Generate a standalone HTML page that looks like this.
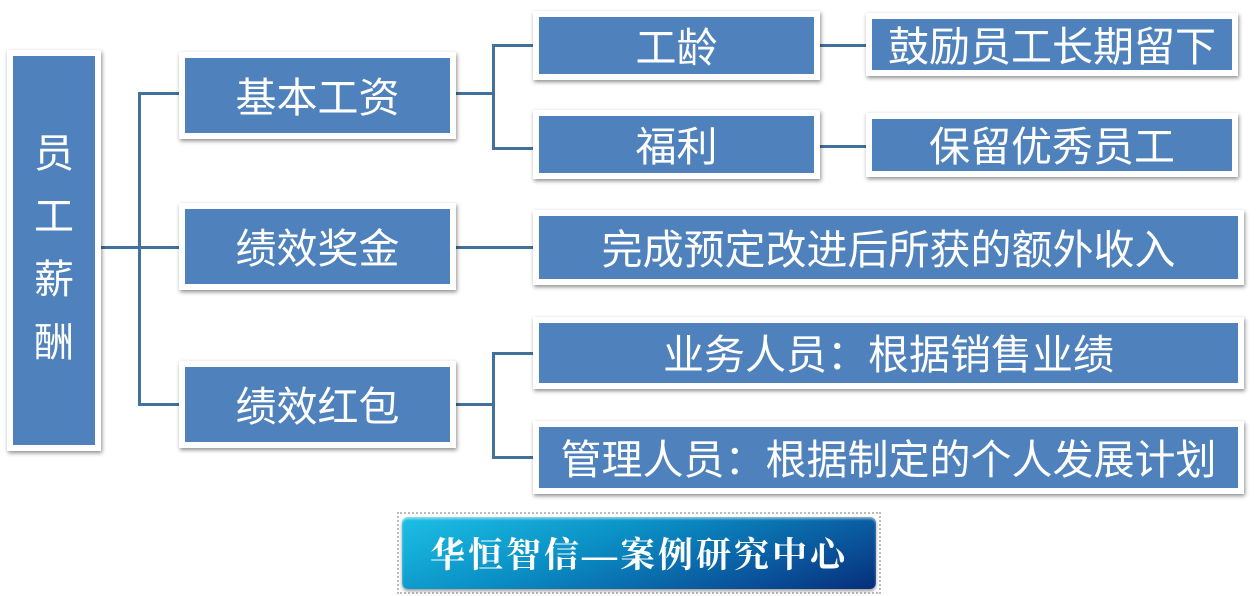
<!DOCTYPE html>
<html><head><meta charset="utf-8"><style>
body{margin:0;width:1257px;height:596px;background:#fff;position:relative;overflow:hidden;font-family:"Liberation Sans","Noto Sans CJK SC",sans-serif}
.b{position:absolute;box-sizing:border-box;background:#4f81bd;border:6px solid #fff;box-shadow:1px 2px 4px rgba(0,0,0,.45);color:#fff;display:flex;align-items:center;justify-content:center;font-size:41px;white-space:nowrap;padding-bottom:4px}
.l{position:absolute;background:#41719c}
</style></head><body>
<div class="l" style="left:100px;top:246px;width:40px;height:3px"></div>
<div class="l" style="left:138px;top:92px;width:3px;height:314px"></div>
<div class="l" style="left:138px;top:92px;width:42px;height:3px"></div>
<div class="l" style="left:138px;top:246px;width:42px;height:3px"></div>
<div class="l" style="left:138px;top:403px;width:42px;height:3px"></div>
<div class="l" style="left:455px;top:92px;width:40px;height:3px"></div>
<div class="l" style="left:492px;top:44px;width:3px;height:106px"></div>
<div class="l" style="left:492px;top:44px;width:43px;height:3px"></div>
<div class="l" style="left:492px;top:147px;width:43px;height:3px"></div>
<div class="l" style="left:819px;top:44px;width:50px;height:3px"></div>
<div class="l" style="left:819px;top:145px;width:50px;height:3px"></div>
<div class="l" style="left:455px;top:246px;width:80px;height:3px"></div>
<div class="l" style="left:455px;top:403px;width:40px;height:3px"></div>
<div class="l" style="left:492px;top:352px;width:3px;height:107px"></div>
<div class="l" style="left:492px;top:352px;width:43px;height:3px"></div>
<div class="l" style="left:492px;top:456px;width:43px;height:3px"></div>
<div class="b" style="left:7px;top:50px;width:94px;height:401px;flex-direction:column;line-height:63px;font-size:40px">员<br>工<br>薪<br>酬</div>
<div class="b" style="left:179px;top:52px;width:277px;height:87px">基本工资</div>
<div class="b" style="left:179px;top:203px;width:277px;height:87px">绩效奖金</div>
<div class="b" style="left:179px;top:361px;width:277px;height:87px">绩效红包</div>
<div class="b" style="left:533px;top:11px;width:287px;height:69px">工龄</div>
<div class="b" style="left:533px;top:110px;width:287px;height:69px">福利</div>
<div class="b" style="left:866px;top:13px;width:372px;height:63px">鼓励员工长期留下</div>
<div class="b" style="left:866px;top:113px;width:372px;height:64px">保留优秀员工</div>
<div class="b" style="left:533px;top:210px;width:711px;height:75px">完成预定改进后所获的额外收入</div>
<div class="b" style="left:533px;top:317px;width:711px;height:72px">业务人员：根据销售业绩</div>
<div class="b" style="left:533px;top:421px;width:711px;height:73px">管理人员：根据制定的个人发展计划</div>
<div style="position:absolute;left:397px;top:512px;width:484px;height:82px;box-sizing:border-box;border:2px dotted #bbb;padding:3px">
<div style="width:100%;height:100%;border-radius:6px;background:linear-gradient(160deg,#1cc0e6 0%,#0a8fc4 40%,#0a4f98 80%,#062e7a 100%);box-shadow:inset 0 2px 2px rgba(255,255,255,.5),0 2px 3px rgba(0,0,0,.4);color:#fff;display:flex;align-items:center;justify-content:center;font-family:'Liberation Serif','Noto Serif CJK SC',serif;font-weight:bold;font-size:35px;letter-spacing:3px">华恒智信—案例研究中心</div>
</div>
</body></html>
